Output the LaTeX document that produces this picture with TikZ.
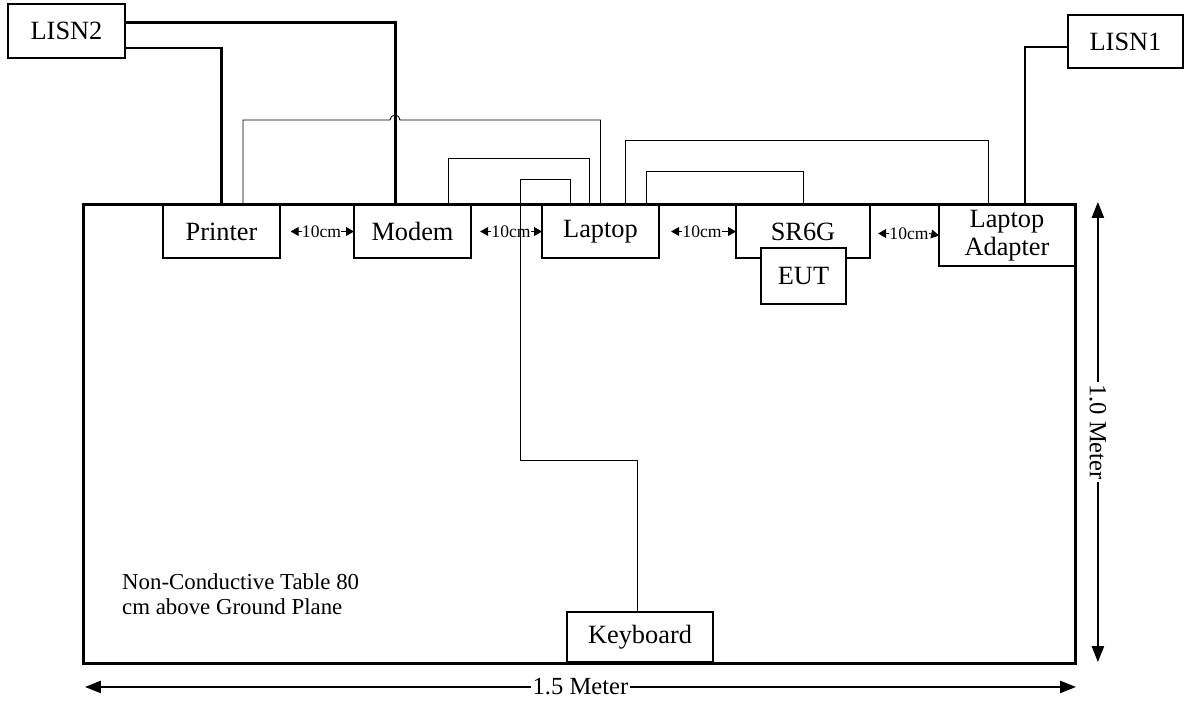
\documentclass[tikz,border=0pt]{standalone}
\usepackage{fontspec}
\setmainfont{Liberation Serif}
\usetikzlibrary{arrows.meta}
\tikzset{
  unit/.style={draw, line width=0.8pt, fill=white, outer sep=0pt, inner sep=1pt,
    align=center, font=\fontsize{15}{16}\selectfont},
  tabletop/.style={draw, line width=1.7pt, outer sep=0pt,
    minimum width=19.86cm, minimum height=9.2cm},
  power/.style={line width=1.7pt},
  cable/.style={line width=0.5pt},
  gaptip/.style={line width=0.5pt, -{Triangle[length=4.5pt,width=5pt]}},
  gaplabel/.style={inner sep=0pt, font=\fontsize{10}{11}\selectfont},
  dim/.style={line width=0.8pt,
    {Triangle[length=9pt,width=7pt]}-{Triangle[length=9pt,width=7pt]}},
  dimlabel/.style={fill=white, inner sep=1pt, font=\fontsize{14}{15}\selectfont},
}
\begin{document}
\begin{tikzpicture}[x=0.02cm, y=-0.02cm]
  \useasboundingbox (0,0) rectangle (1184,701);

  % the table
  \node[tabletop] (table) at (579.5,434) {};
  \node[anchor=west, align=left, font=\fontsize{13}{14}\selectfont] (note) at (116,594)
    {Non-Conductive Table 80\\cm above Ground Plane};

  % units on the table
  \node[unit, minimum width=2.34cm, minimum height=1.06cm] (printer) at (221.5,231.5) {Printer};
  \node[unit, minimum width=2.34cm, minimum height=1.06cm] (modem) at (412.5,231.5) {Modem};
  \node[unit, minimum width=2.34cm, minimum height=1.06cm] (laptop) at (600.5,231.5) {Laptop};
  \node[unit, minimum width=2.68cm, minimum height=1.06cm] (sr6g) at (803,231.5) {SR6G};
  \node[unit, minimum width=1.70cm, minimum height=1.12cm] (eut) at (803.5,276) {EUT};
  \node[unit, minimum width=2.72cm, minimum height=1.22cm] (adapter) at (1007,235.5) {Laptop\\Adapter};
  \node[unit, minimum width=2.92cm, minimum height=1.00cm] (keyboard) at (640,637) {Keyboard};
  \node[unit, minimum width=2.34cm, minimum height=1.08cm] (lisn2) at (66.5,31) {LISN2};
  \node[unit, minimum width=2.30cm, minimum height=1.06cm] (lisn1) at (1125.5,41.5) {LISN1};

  % mains
  \draw[power] ([yshift=0.18cm]lisn2.east) -| ([xshift=-0.35cm]modem.north);
  \draw[power] ([yshift=-0.34cm]lisn2.east) -| (printer.north);
  \draw[power] ([yshift=-0.11cm]lisn1.west) -| ([xshift=0.36cm]adapter.north);

  % signal cables
  \coordinate (hop) at (395,120);
  \coordinate (kbturn) at (520,179);
  \draw[cable] ([xshift=0.43cm]printer.north) |- ([xshift=-0.1cm]hop)
    arc[start angle=180, end angle=0, radius=0.1cm] -| (laptop.north);
  \draw[cable] ([xshift=0.71cm]modem.north) -- ++(0,0.94cm) -| ([xshift=-0.23cm]laptop.north);
  \draw[cable] ([xshift=-0.06cm]keyboard.north) -- ++(0,3.04cm) -| (kbturn)
    -| ([xshift=-0.61cm]laptop.north);
  \draw[cable] ([xshift=0.49cm]laptop.north) -- ++(0,1.3cm) -| ([xshift=-0.38cm]adapter.north);
  \draw[cable] ([xshift=0.91cm]laptop.north) -- ++(0,0.68cm) -| (sr6g.north);

  % spacing
  \path ([xshift=0.18cm]printer.east) -- node[gaplabel] (gap1) {10cm} (modem.west);
  \path ([xshift=0.18cm]modem.east) -- node[gaplabel] (gap2) {10cm} (laptop.west);
  \path ([xshift=0.18cm]laptop.east) -- node[gaplabel] (gap3) {10cm} (sr6g.west);
  \path ([xshift=0.18cm]sr6g.east) -- node[gaplabel] (gap4) {10cm} (adapter.west);
  \draw[gaptip] (gap1.west) -- ++(-0.22cm,0);
  \draw[gaptip] (gap1.east) -- (modem.west);
  \draw[gaptip] (gap2.west) -- ++(-0.22cm,0);
  \draw[gaptip] (gap2.east) -- (laptop.west);
  \draw[gaptip] (gap3.west) -- ++(-0.22cm,0);
  \draw[gaptip] (gap3.east) -- (sr6g.west);
  \draw[gaptip] (gap4.west) -- ++(-0.22cm,0);
  \draw[gaptip] (gap4.east) -- (adapter.west);

  % table size
  \draw[dim] ([xshift=0.04cm, yshift=-0.46cm]table.south west) --
    node[dimlabel] (width) {1.5 Meter} ([yshift=-0.46cm]table.south east);
  \draw[dim] ([xshift=0.44cm, yshift=0.04cm]table.north east) --
    node[dimlabel, rotate=-90] (depth) {1.0 Meter} ([xshift=0.44cm, yshift=0.04cm]table.south east);
\end{tikzpicture}
\end{document}
